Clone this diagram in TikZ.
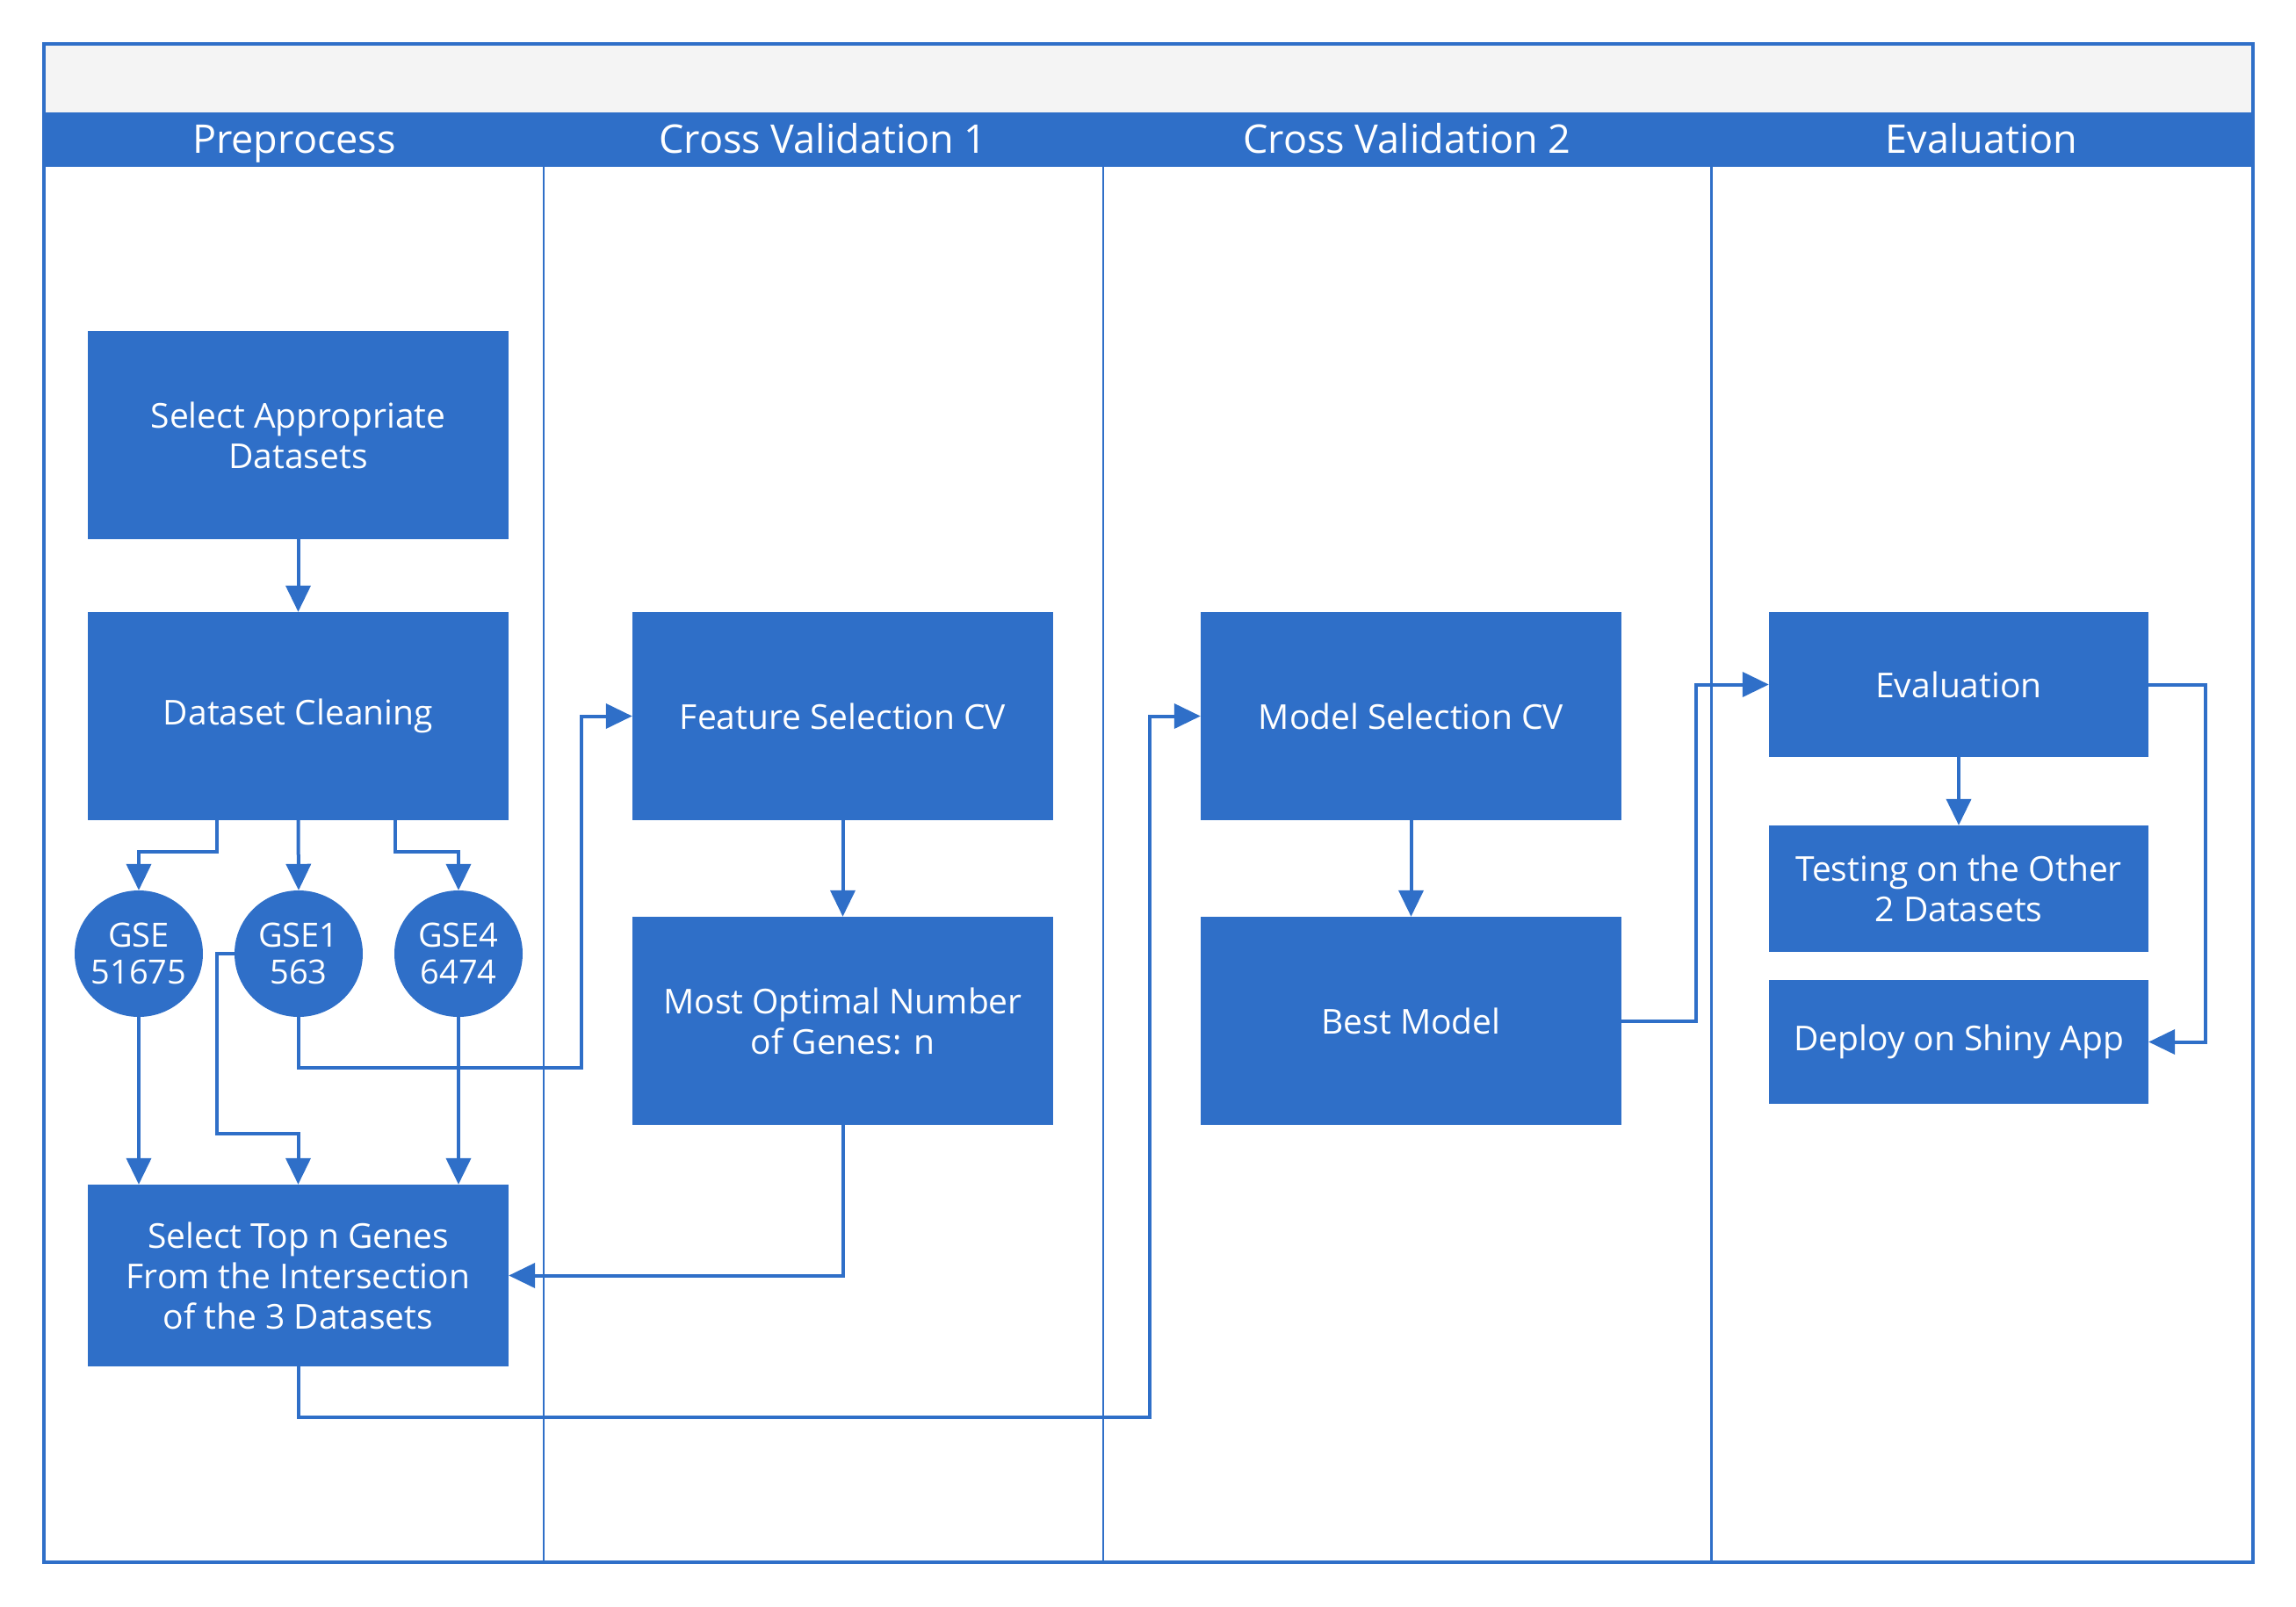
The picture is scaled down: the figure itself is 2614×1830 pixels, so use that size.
\documentclass[tikz,border=0pt]{standalone}
\usepackage{fontspec}
\setmainfont{Open Sans}
\usetikzlibrary{arrows.meta,shapes.geometric}
\definecolor{flowblue}{RGB}{47,111,200}
\definecolor{bandgrey}{RGB}{244,244,244}
\tikzset{
  stepbox/.style={rectangle, fill=flowblue, text=white, align=center,
    inner sep=0pt, font=\fontsize{39}{46}\selectfont},
  dataset/.style={ellipse, fill=flowblue, text=white, align=center,
    inner xsep=-14pt, inner ysep=-8pt, minimum width=146pt, minimum height=144pt,
    font=\fontsize{38}{42}\selectfont},
  arr/.style={draw=flowblue, line width=4pt,
    -{Triangle[length=30pt,width=28pt]}},
  lane/.style={text=white, anchor=base, font=\fontsize{45}{50}\selectfont},
}
\begin{document}
\begin{tikzpicture}[x=1pt,y=-1pt]
\useasboundingbox (0,0) rectangle (2614,1830);
% swimlane frame
\fill[bandgrey] (50,50) rectangle (2565,128);
\fill[flowblue] (50,128) rectangle (2565,190);
\draw[flowblue, line width=1.5pt] (619,190) -- (619,1779);
\draw[flowblue, line width=1.5pt] (1256,190) -- (1256,1779);
\draw[flowblue, line width=3pt] (1948,190) -- (1948,1779);
\draw[flowblue, line width=4pt] (50,50) rectangle (2565,1779);
\node[lane] (h1) at (335,175) {Preprocess};
\node[lane] (h2) at (937,175) {Cross Validation 1};
\node[lane] (h3) at (1602,175) {Cross Validation 2};
\node[lane] (h4) at (2256,175) {Evaluation};
% steps
\node[stepbox, minimum width=479pt, minimum height=237pt] (sad) at (339.5,495.5) {Select Appropriate\\Datasets};
\node[stepbox, minimum width=479pt, minimum height=237pt] (dc) at (339.5,815.5) {Dataset Cleaning};
\node[dataset] (g1) at (158,1086) {GSE\\51675};
\node[dataset] (g2) at (340,1086) {GSE1\\563};
\node[dataset] (g3) at (522,1086) {GSE4\\6474};
\node[stepbox, minimum width=479pt, minimum height=207pt] (stg) at (339.5,1452.5) {Select Top n Genes\\From the Intersection\\of the 3 Datasets};
\node[stepbox, minimum width=479pt, minimum height=237pt] (fscv) at (959.5,815.5) {Feature Selection CV};
\node[stepbox, minimum width=479pt, minimum height=237pt] (mon) at (959.5,1162.5) {Most Optimal Number\\of Genes: n};
\node[stepbox, minimum width=479pt, minimum height=237pt] (mscv) at (1606.5,815.5) {Model Selection CV};
\node[stepbox, minimum width=479pt, minimum height=237pt] (bm) at (1606.5,1162.5) {Best Model};
\node[stepbox, minimum width=432pt, minimum height=165pt] (ev) at (2230,779.5) {Evaluation};
\node[stepbox, minimum width=432pt, minimum height=144pt] (test) at (2230,1012) {Testing on the Other\\2 Datasets};
\node[stepbox, minimum width=432pt, minimum height=141pt] (dep) at (2230,1186.5) {Deploy on Shiny App};
% connectors
\draw[arr] (sad) -- (dc);
\draw[arr] (dc.south -| 247,0) -- (247,970) -| (g1.north);
\draw[arr] (dc.south) -- (g2.north);
\draw[arr] (dc.south -| 450,0) -- (450,970) -| (g3.north);
\draw[arr] (g1.south) -- (g1.south |- stg.north);
\draw[arr] (g2.west) -| (247,1291) -| (stg.north);
\draw[arr] (g3.south) -- (g3.south |- stg.north);
\draw[arr] (g2.south) |- (662,1216) |- (fscv.west);
\draw[arr] (fscv) -- (mon);
\draw[arr] (mon.south) |- (stg.east);
\draw[arr] (stg.south) |- (1309,1614) |- (mscv.west);
\draw[arr] (mscv) -- (bm);
\draw[arr] (bm.east) -| ([xshift=-83pt]ev.west) -- (ev.west);
\draw[arr] (ev) -- (test);
\draw[arr] (ev.east) -- ([xshift=65pt]ev.east) |- (dep.east);
\end{tikzpicture}
\end{document}
